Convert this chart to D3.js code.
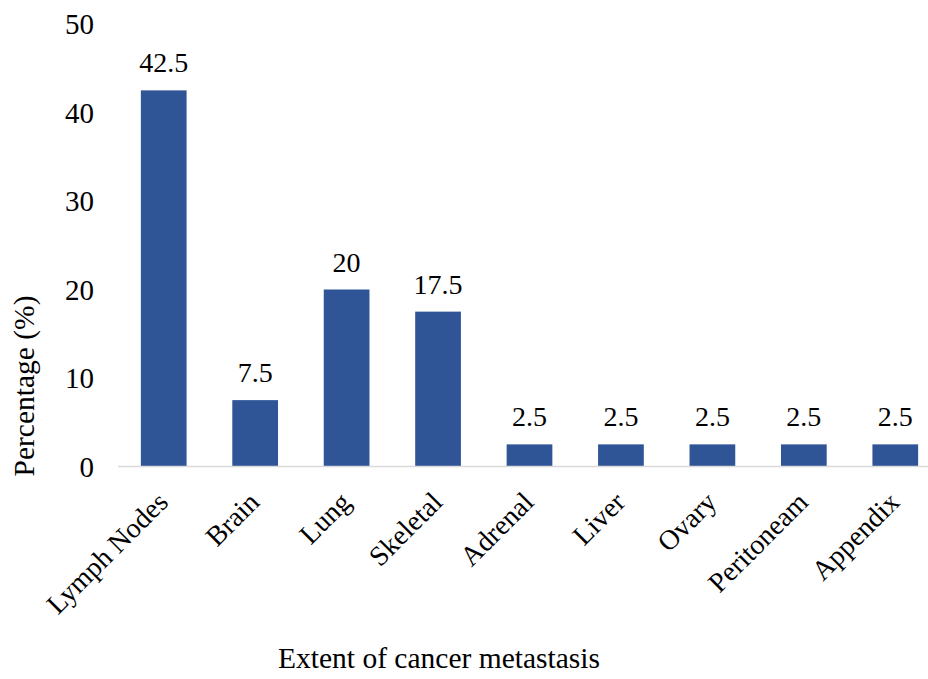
<!DOCTYPE html>
<html>
<head>
<meta charset="utf-8">
<script src="https://cdn.jsdelivr.net/npm/d3@7"></script>
<style>
  body { margin: 0; background: #fff; }
</style>
</head>
<body>
<svg id="chart"></svg>
<script>
var categories = ["Lymph Nodes", "Brain", "Lung", "Skeletal", "Adrenal", "Liver", "Ovary", "Peritoneam", "Appendix"];
var percentages = [42.5, 7.5, 20, 17.5, 2.5, 2.5, 2.5, 2.5, 2.5];
var yTicks = [0, 10, 20, 30, 40, 50];

var width = 928
var height = 679
var serif = "'Liberation Serif', 'Times New Roman', Times, serif"

var svg = d3.select('#chart')
            .attr("width", width)
            .attr("height", height)
            .attr("font-family", serif);

var data = categories.map((c, i) => ({name: c, value: percentages[i]}));

// band extends past the right edge like the original export
var x = d3.scaleBand()
    .domain(categories)
    .range([118, 941])
    .paddingInner(0.5)
    .paddingOuter(0.25);

var y = d3.scaleLinear()
    .domain([0, 50])
    .range([466.5, 24]);

// bars
svg.append("g")
  .selectAll("rect")
  .data(data)
  .join("rect")
    .attr("x", d => x(d.name))
    .attr("y", d => y(d.value))
    .attr("width", x.bandwidth())
    .attr("height", d => y(0) - y(d.value))
    .attr("fill", "#2f5597");

// baseline
svg.append("line")
    .attr("x1", 118)
    .attr("x2", width)
    .attr("y1", y(0))
    .attr("y2", y(0))
    .attr("stroke", "#d9d9d9")
    .attr("stroke-width", 1.5);

// y tick labels
svg.append("g")
  .selectAll("text")
  .data(yTicks)
  .join("text")
    .attr("x", 94)
    .attr("y", d => y(d))
    .attr("dy", "0.35em")
    .attr("text-anchor", "end")
    .attr("font-size", 29)
    .text(d => String(d));

// value labels
svg.append("g")
  .selectAll("text")
  .data(data)
  .join("text")
    .attr("x", d => x(d.name) + x.bandwidth() / 2)
    .attr("y", d => y(d.value) - 18)
    .attr("text-anchor", "middle")
    .attr("font-size", 28)
    .text(d => String(d.value));

// category labels, rotated
svg.append("g")
  .selectAll("text")
  .data(categories)
  .join("text")
    .attr("transform", d => "translate(" + (x(d) + x.bandwidth() / 2 - 8) + "," + 490 + ") rotate(-45)")
    .attr("text-anchor", "end")
    .attr("dy", "0.7em")
    .attr("font-size", 28)
    .text(d => d);

// axis titles
svg.append("text")
    .attr("transform", "translate(34,386) rotate(-90)")
    .attr("text-anchor", "middle")
    .attr("font-size", 29.5)
    .text("Percentage (%)");

svg.append("text")
    .attr("x", 439)
    .attr("y", 668)
    .attr("text-anchor", "middle")
    .attr("font-size", 29.5)
    .text("Extent of cancer metastasis");
</script>
</body>
</html>
